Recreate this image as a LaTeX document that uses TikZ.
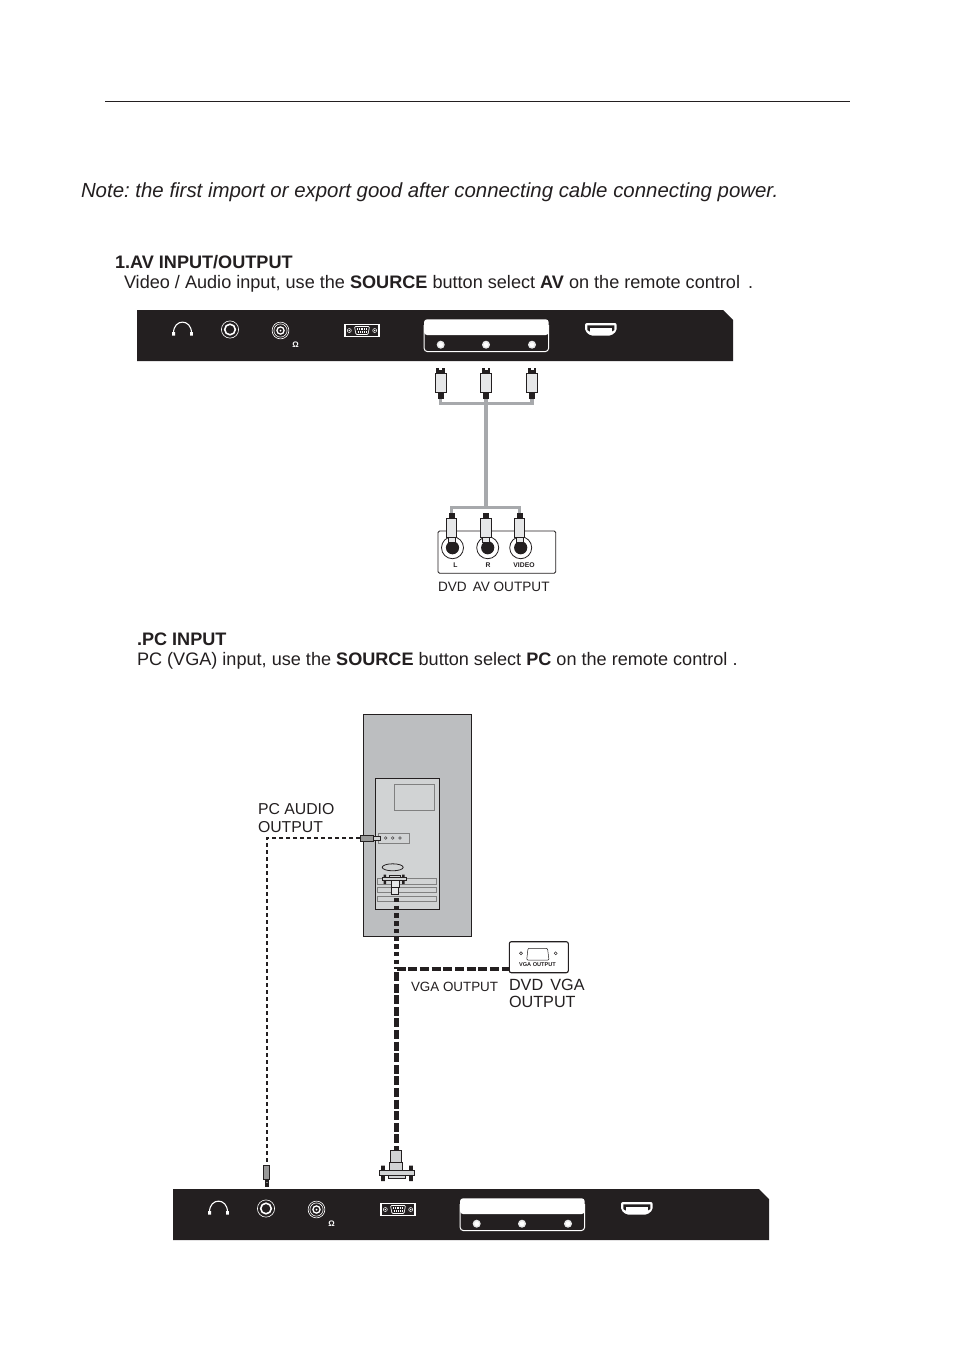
\documentclass[tikz,border=0pt]{standalone}
\usepackage{fontspec}
\setmainfont{Liberation Sans}
\definecolor{ink}{HTML}{231F20}
\definecolor{cablegrey}{HTML}{A7A9AC}
\definecolor{plug}{HTML}{E6E7E8}
\definecolor{pcgrey}{HTML}{BCBEC0}
\definecolor{pclight}{HTML}{D1D3D4}
\tikzset{
  txt/.style={anchor=base west,inner sep=0pt,outer sep=0pt,text=ink},
  body/.style={txt,font=\fontsize{18.1}{20}\selectfont},
  small/.style={txt,font=\fontsize{15.8}{18}\selectfont},
  cable/.style={draw=cablegrey,line width=3.2pt},
  cablethin/.style={draw=cablegrey,line width=2.8pt},
  outl/.style={draw=ink,line width=1pt},
  wl/.style={draw=white,line width=1.1pt},
}
\newcommand{\tvpanel}[3]{%
\begin{scope}[shift={(#1,#2)}]
  \fill[ink] (137,310) -- (723,310) -- (733,320) -- (733,361) -- (137,361) -- cycle;
  % headphones
  \draw[wl] (173.5,333) .. controls (173.5,318.5) and (191.5,318.5) .. (191.5,333);
  \fill[white] (172.2,332) rectangle (175,335.5) (190,332) rectangle (192.8,335.5);
  % jack
  \draw[white,line width=.6pt] (230,329.5) circle (8.6);
  \draw[white,line width=1.6pt] (230,329.5) circle (5.3);
  % coax
  \draw[white,line width=.6pt] (280.5,330.5) circle (8.4);
  \draw[white,line width=.6pt] (280.5,330.5) circle (6.6);
  \draw[white,line width=1.3pt] (280.5,330.5) circle (3.6);
  \fill[white] (280.5,330.5) circle (1);
  \node[inner sep=0pt,text=white,font=\fontsize{8}{8}\bfseries\selectfont] (omega#3) at (295.7,345) {Ω};
  % VGA
  \draw[wl,fill=ink] (345,324.3) rectangle (379,336.7);
  \draw[white,line width=.7pt,rounded corners=1pt,fill=ink] (354.5,326.5) -- (369.5,326.5) -- (368,334.5) -- (356,334.5) -- cycle;
  \draw[white,line width=1.2pt,densely dotted] (357,329) -- (367,329) (357.5,332) -- (366.5,332);
  \draw[white,line width=.5pt] (349.3,330.5) circle (2) (374.7,330.5) circle (2);
  \fill[white] (349.3,330.5) circle (.8) (374.7,330.5) circle (.8);
  % AV group
  \fill[white,rounded corners=3pt] (424,319.3) rectangle (548.7,335);
  \fill[white] (424,325) rectangle (548.7,331.7);
  \draw[white,line width=1pt,rounded corners=3pt] (424.2,325) -- (424.2,351.5) -- (548.5,351.5) -- (548.5,325);
  \foreach \cx in {440.7,486,532} {
    \fill[plug] (\cx,344.7) circle (4);
    \fill[white] (\cx,344.7) circle (2.4);
  }
  % HDMI
  \fill[white,rounded corners=2pt] (585,323) -- (616.7,323) -- (616.7,331) -- (611,335.7) -- (590.5,335.7) -- (585,331) -- cycle;
  \fill[ink] (587.3,325.3) -- (614.4,325.3) -- (614.4,330) -- (610,332.6) -- (591.5,332.6) -- (587.3,330) -- cycle;
  \fill[white] (590,328.2) rectangle (611.5,332.6);
\end{scope}}
\newcommand{\rcaup}[1]{%
  \fill[ink] (#1-4.3,367.7) rectangle (#1+4.3,373);
  \fill[white] (#1-1.5,367.7) rectangle (#1+1.5,370);
  \draw[outl,fill=plug] (#1-5.4,373) rectangle (#1+5.4,392.7);
  \fill[ink] (#1-3,392.7) rectangle (#1+3,399);
}
\newcommand{\rcadown}[1]{%
  \fill[ink] (#1-3,513) rectangle (#1+3,518);
  \draw[outl,fill=plug] (#1-5.4,518) rectangle (#1+5.4,537.7);
  \draw[draw=ink,line width=.7pt,fill=plug] (#1-3.4,537.7) rectangle (#1+3.4,542);
}
\newcommand{\rcasock}[1]{%
  \draw[ink,line width=.8pt,fill=white] (#1,547.7) circle (11);
  \fill[ink] (#1,547.7) circle (6.6);
}
\begin{document}
\frenchspacing
\begin{tikzpicture}[x=1pt,y=-1pt]
\useasboundingbox (0,0) rectangle (954,1350);
\fill[white] (0,0) rectangle (954,1350);
\coordinate (ruleL) at (105,101);
\coordinate (ruleR) at (850,101);
\draw[ink,line width=1pt] (ruleL) -- (ruleR);
\node[txt,font=\fontsize{20.42}{24}\itshape\selectfont] (note) at (81,197) {Note: the first import or export good after connecting cable connecting power.};
\node[txt,font=\fontsize{18.1}{20}\bfseries\selectfont] (h1) at (115,268) {1.AV INPUT/OUTPUT};
\node[body] (l1) at (124,288.5) {Video / Audio input, use the \textbf{SOURCE} button select \textbf{AV} on the remote control \,.};
\node[txt,font=\fontsize{18.1}{20}\bfseries\selectfont] (h2) at (137,645) {.PC INPUT};
\node[body] (l2) at (137,665.5) {PC (VGA) input, use the \textbf{SOURCE} button select \textbf{PC} on the remote control .};

\tvpanel{0}{0}{a}

% AV cables
\coordinate (p1) at (440.7,399);
\coordinate (p2) at (486,399);
\coordinate (p3) at (532,399);
\coordinate (j1) at (486,403.7);
\coordinate (j2) at (486,507.7);
\coordinate (q1) at (451.5,513);
\coordinate (q2) at (486,513);
\coordinate (q3) at (519.5,513);
\draw[cable] (p1) |- (j1) -| (p3);
\draw[cable] (p2) -- (j2);
\draw[cablethin] (q1) |- (j2) -| (q3);
\rcaup{440.7}\rcaup{486}\rcaup{532}

% DVD AV box
\draw[draw=ink,line width=.8pt,rounded corners=1.5pt] (438,531) rectangle (555.7,573.3);
\rcasock{452.5}\rcasock{487.7}\rcasock{520.7}
\rcadown{451.5}\rcadown{486}\rcadown{519.5}
\node[inner sep=0pt,text=ink,font=\fontsize{6.8}{7}\bfseries\selectfont] (tl) at (455.5,565) {L};
\node[inner sep=0pt,text=ink,font=\fontsize{6.8}{7}\bfseries\selectfont] (tr) at (488,565) {R};
\node[inner sep=0pt,text=ink,font=\fontsize{6.8}{7}\bfseries\selectfont] (tv) at (524,565) {VIDEO};
\node[txt,font=\fontsize{13.6}{16}\selectfont] (dvdav) at (438,591.5) {DVD\, AV OUTPUT};

% Computer
\draw[draw=ink,line width=1pt,fill=pcgrey] (363.3,714.5) rectangle (471,936.3);
\draw[draw=ink,line width=1pt,fill=pclight] (375.3,778.3) rectangle (439.3,909.3);
\draw[draw=gray,line width=.8pt] (394.3,784.3) rectangle (434,810.7);
\draw[draw=gray,line width=.8pt] (378.3,833.3) rectangle (409.3,843);
\draw[ink,line width=.4pt] (385.7,838) circle (1.4) (392.7,838) circle (1.4) (400,838) circle (1.4);
\draw[draw=gray,line width=.7pt] (377.5,878.3) rectangle (436.7,884.7);
\draw[draw=gray,line width=.7pt] (377.5,887.3) rectangle (436.7,892.7);
\draw[draw=gray,line width=.7pt] (377.5,896) rectangle (436.7,901.7);
\draw[ink,line width=.8pt,fill=pclight] (392.7,867.3) ellipse (10.5 and 3.5);
% PC VGA plug
\fill[ink] (383.5,874.5) rectangle (386,884) (402,874.5) rectangle (404.5,884);
\draw[ink,line width=.7pt,fill=pclight] (389.5,875) rectangle (400,877);
\draw[ink,line width=.7pt,fill=pclight] (382.7,877) rectangle (406.7,880.7);
\draw[ink,line width=.8pt,fill=plug] (391,880.7) rectangle (399,887);
\draw[ink,line width=.8pt,fill=plug] (391.5,887) rectangle (398.5,894.7);
% PC audio plug
\draw[ink,line width=.8pt,fill=gray!80] (360,835) rectangle (373.7,841.7);
\draw[ink,line width=.8pt,fill=pclight] (373.7,836.7) rectangle (380.7,840.3);

% Cables
\coordinate (audioA) at (360,838.3);
\coordinate (audioB) at (267,1165);
\draw[ink,line width=2.2pt,dash pattern=on 4pt off 3pt] (audioA) -| (audioB);
\coordinate (vgaA) at (396.5,898);
\coordinate (vgaJ) at (396.5,969);
\coordinate (vgaB) at (396.5,1150);
\draw[ink,line width=5pt,dash pattern=on 4.4pt off 3.3pt] (vgaA) -- (vgaJ);
\draw[ink,line width=4.4pt,dash pattern=on 9pt off 2.6pt] (vgaJ) ++(0,3) -- (vgaB);

% DVD VGA box
\node[draw=ink,line width=1.1pt,rounded corners=2pt,minimum width=59pt,minimum height=31pt,inner sep=0pt,fill=white] (dvdvga) at (538.8,957.2) {};
\draw[ink,line width=4.4pt,dash pattern=on 9pt off 2.7pt] (vgaJ) -- (dvdvga.west |- vgaJ);
\draw[ink,line width=.5pt,rounded corners=1pt] (528,948.3) -- (547.5,948.3) -- (549,960) -- (526.7,960) -- cycle;
\draw[ink,line width=.5pt] (521,953.3) circle (1.5) (555.7,953.3) circle (1.5);
\node[inner sep=0pt,text=ink,font=\fontsize{5.6}{6}\bfseries\selectfont] (vgat) at (537.5,965) {VGA OUTPUT};
\node[txt,font=\fontsize{13.4}{16}\selectfont] (vgal) at (411,991) {VGA OUTPUT};
\node[txt,font=\fontsize{16.2}{18}\selectfont] (dv1) at (509,990.5) {DVD\, VGA};
\node[txt,font=\fontsize{16.2}{18}\selectfont] (dv2) at (509,1007.5) {OUTPUT};
\node[small] (pa1) at (258,814) {PC AUDIO};
\node[small] (pa2) at (258,832) {OUTPUT};

\tvpanel{36}{879}{b}

% bottom plugs
\draw[ink,line width=.8pt,fill=gray!80] (263.5,1165) rectangle (269.7,1179);
\fill[ink] (265,1179) rectangle (268.7,1186.7);
\fill[gray] (265.6,1181.5) rectangle (268.1,1182.5);
\draw[ink,line width=.8pt,fill=pclight] (390.7,1150) rectangle (401.7,1162.3);
\draw[ink,line width=.8pt,fill=pclight] (389.3,1162.3) rectangle (402.7,1170.7);
\draw[ink,line width=.8pt,fill=pclight] (388,1175.7) rectangle (405,1178.7);
\fill[ink] (381,1165.7) rectangle (384.8,1181) (409,1165.7) rectangle (412.8,1181);
\draw[ink,line width=.8pt,fill=pclight] (379.3,1170.7) rectangle (414.7,1175.7);
\end{tikzpicture}
\end{document}
